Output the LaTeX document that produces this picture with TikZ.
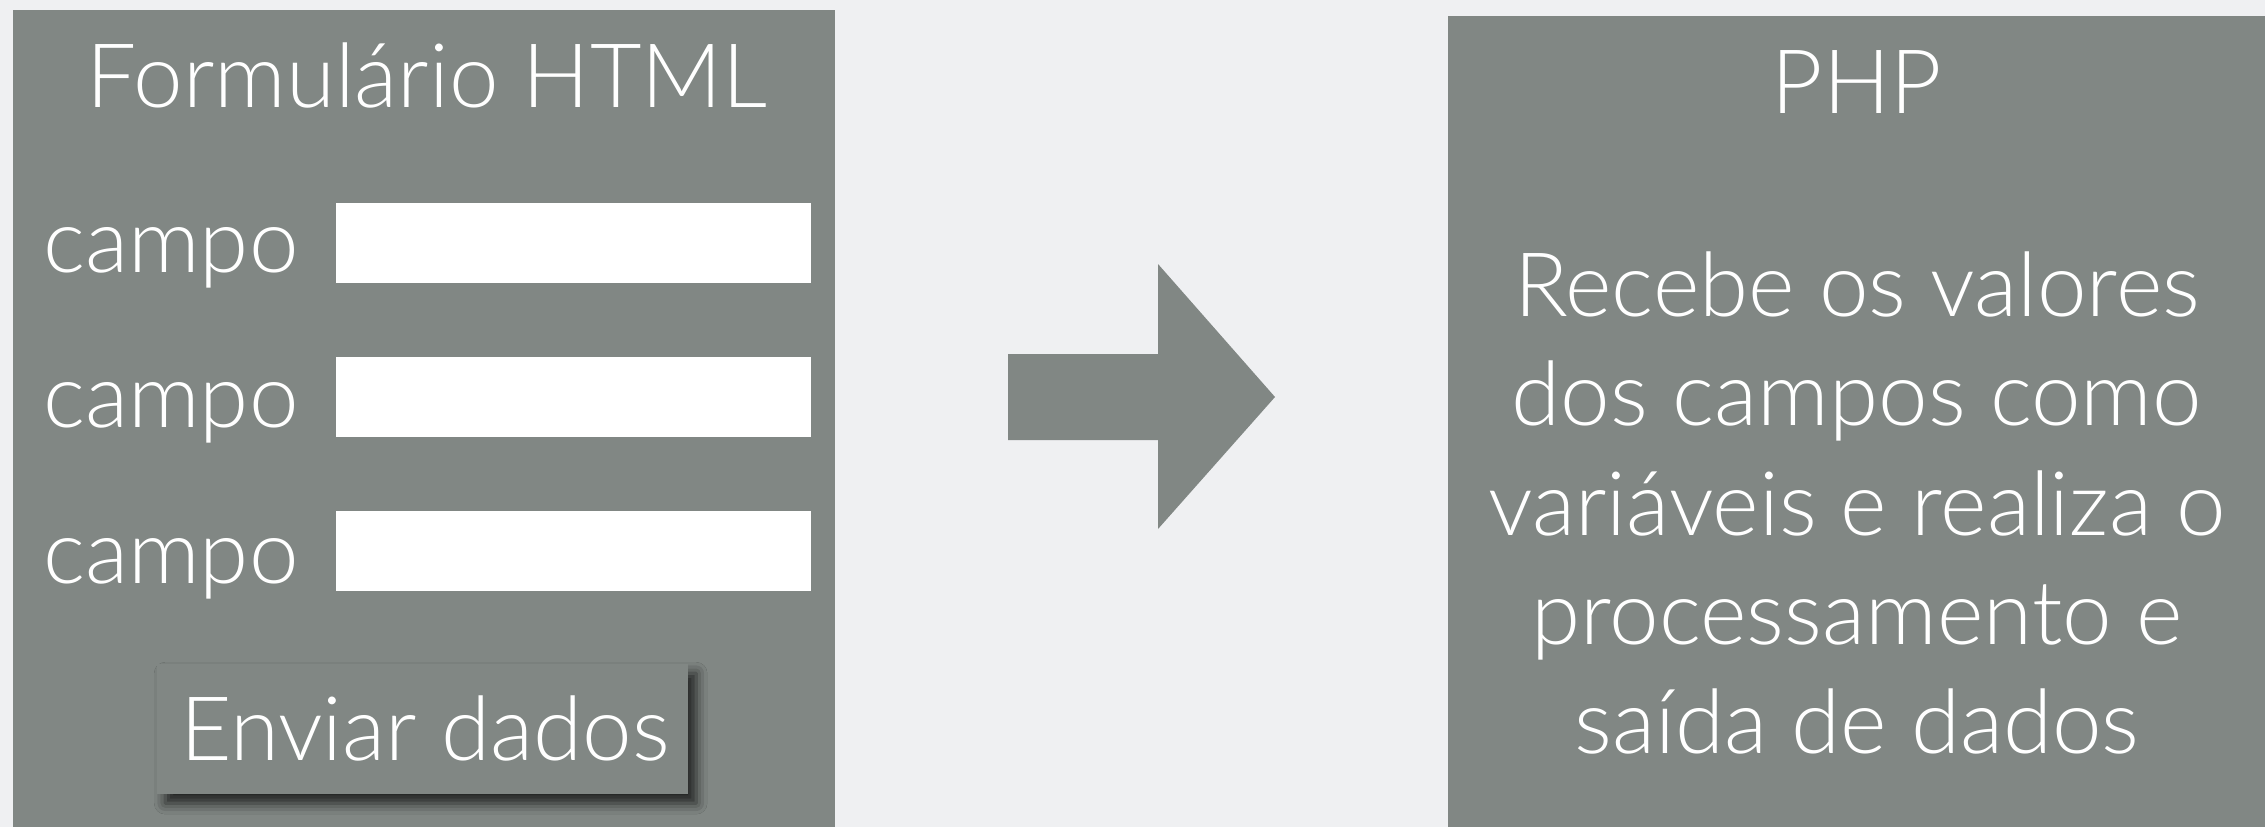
\documentclass[tikz,border=0pt]{standalone}
\usepackage{fontspec}
\newfontfamily\glight{Lato Light}
\usetikzlibrary{shadows.blur}
\definecolor{boxgray}{RGB}{129,135,132}
\definecolor{bgcol}{RGB}{239,240,242}
\tikzset{
  panel/.style={fill=boxgray, draw=none, inner sep=0pt, anchor=north west},
  field/.style={fill=white, draw=none, inner sep=0pt, anchor=north west, minimum width=475pt, minimum height=80pt},
  lbl/.style={text=white, inner sep=0pt, font=\glight\fontsize{89}{107}\selectfont},
  button/.style={fill=boxgray, draw=none, inner sep=0pt, anchor=north west,
    blur shadow={shadow xshift=8pt, shadow yshift=-9pt, shadow blur radius=11pt, shadow opacity=75}},
}
\begin{document}
\begin{tikzpicture}[x=1pt,y=-1pt]
\fill[bgcol] (0,0) rectangle (2265,827);
\useasboundingbox (0,0) rectangle (2265,827);
% left panel
\node[panel, minimum width=822pt, minimum height=830pt] (form) at (13,10) {};
\node[lbl, anchor=base] (title) at (427,107) {Formulário HTML};
\node[field] (f1) at (336,203) {};
\node[field] (f2) at (336,357) {};
\node[field] (f3) at (336,511) {};
\node[lbl, anchor=base west] (c1) at (43,272) {campo};
\node[lbl, anchor=base west] (c2) at (43,427) {campo};
\node[lbl, anchor=base west] (c3) at (43,583) {campo};
\node[button, minimum width=531pt, minimum height=130pt] (btn) at (157,664) {};
\node[lbl, anchor=base] (btntext) at (425,760) {Enviar dados};
% arrow
\fill[boxgray] (1008,354) -- (1158,354) -- (1158,264) -- (1275,397) -- (1158,529) -- (1158,440) -- (1008,440) -- cycle;
% right panel
\node[panel, minimum width=830pt, minimum height=820pt] (php) at (1448,16) {};
\node[lbl, anchor=base] (phptitle) at (1857,113) {PHP};
\node[lbl, anchor=base] (l1) at (1857,316) {Recebe os valores};
\node[lbl, anchor=base] (l2) at (1857,425) {dos campos como};
\node[lbl, anchor=base] (l3) at (1857,535) {variáveis e realiza o};
\node[lbl, anchor=base] (l4) at (1857,644) {processamento e};
\node[lbl, anchor=base] (l5) at (1857,753) {saída de dados};
\end{tikzpicture}
\end{document}
